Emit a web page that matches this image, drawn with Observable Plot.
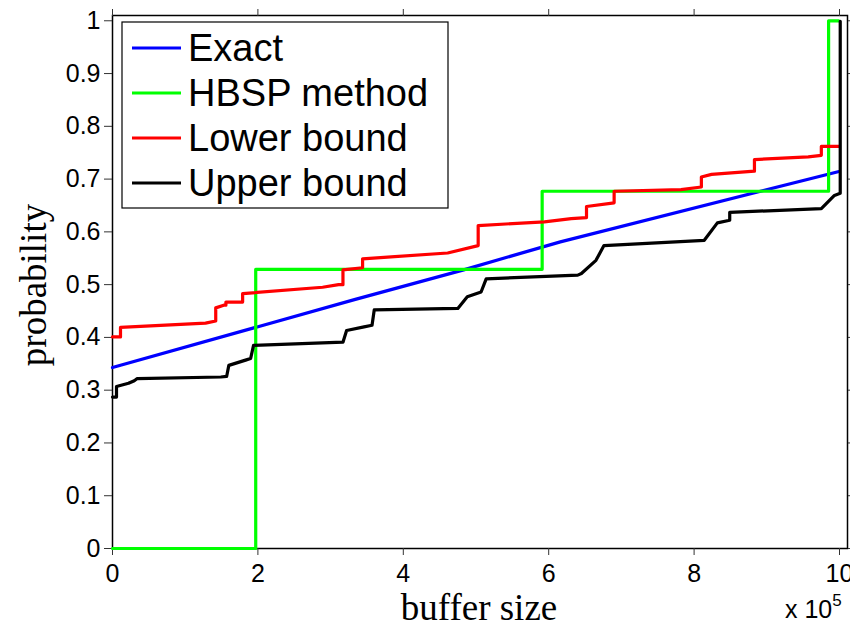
<!DOCTYPE html>
<html>
<head>
<meta charset="utf-8">
<script src="https://cdn.jsdelivr.net/npm/d3@7"></script>
<script src="https://cdn.jsdelivr.net/npm/@observablehq/plot@0.6"></script>
<style>
  html, body { margin: 0; padding: 0; background: #fff; }
  #chart { position: relative; width: 850px; height: 627px; }
</style>
</head>
<body>
<div id="chart"></div>
<script>
// buffer size in units of 10^5
const exactX = [0, 3.34, 4.83, 6.16, 9.98];
const exactY = [0.343, 0.472, 0.528, 0.581, 0.714];

const hbspX = [0, 1.97, 5.91, 9.85, 9.99];
const hbspY = [0, 0.529, 0.677, 1.0, 1.0];

const lowerX = [0, 0.11, 0.11, 1.28, 1.42, 1.42, 1.53, 1.56, 1.56, 1.79, 1.79, 2.89, 3.11, 3.17, 3.17, 3.44, 3.44, 4.61, 5.03, 5.03, 5.94, 6.31, 6.52, 6.52, 6.90, 6.90, 7.82, 8.10, 8.10, 8.24, 8.83, 8.83, 9.57, 9.75, 9.75, 9.99];
const lowerY = [0.401, 0.401, 0.419, 0.427, 0.431, 0.456, 0.461, 0.461, 0.467, 0.467, 0.483, 0.495, 0.500, 0.500, 0.528, 0.532, 0.549, 0.560, 0.574, 0.612, 0.619, 0.625, 0.627, 0.648, 0.655, 0.677, 0.680, 0.685, 0.704, 0.709, 0.715, 0.737, 0.742, 0.745, 0.762, 0.762];

const upperX = [0, 0.055, 0.055, 0.22, 0.30, 0.34, 1.49, 1.57, 1.60, 1.83, 1.90, 1.94, 3.17, 3.22, 3.46, 3.57, 3.60, 4.75, 4.88, 5.07, 5.14, 6.40, 6.45, 6.65, 6.76, 8.14, 8.32, 8.49, 8.49, 9.75, 9.93, 10.01, 10.01];
const upperY = [0.287, 0.287, 0.307, 0.313, 0.318, 0.322, 0.325, 0.326, 0.347, 0.357, 0.360, 0.385, 0.391, 0.413, 0.420, 0.423, 0.452, 0.455, 0.477, 0.486, 0.511, 0.518, 0.521, 0.546, 0.574, 0.584, 0.617, 0.622, 0.637, 0.644, 0.669, 0.673, 0.999];

const seriesNames = ["Exact", "HBSP method", "Lower bound", "Upper bound"];
const seriesColors = ["#0000ff", "#00ff00", "#ff0000", "#000000"];
const xTicks = [0, 2, 4, 6, 8, 10];
const yTicks = [0, 0.1, 0.2, 0.3, 0.4, 0.5, 0.6, 0.7, 0.8, 0.9, 1];

const toRows = (xs, ys) => xs.map((x, i) => ({x, y: ys[i]}));
const exact = toRows(exactX, exactY);
const hbsp = toRows(hbspX, hbspY);
const lower = toRows(lowerX, lowerY);
const upper = toRows(upperX, upperY);

const fmtY = d => String(d);

const plot = Plot.plot({
  width: 850,
  height: 627,
  marginLeft: 112,
  marginRight: 3,
  marginTop: 15,
  marginBottom: 79,
  style: {fontFamily: "'Liberation Sans', Arial, sans-serif", background: "#fff", overflow: "visible"},
  x: {domain: [0, 10.11], ticks: xTicks},
  y: {domain: [0, 1.01], ticks: yTicks},
  marks: [
    Plot.frame({stroke: "#000", strokeWidth: 1.5}),
    Plot.axisX({anchor: "bottom", ticks: xTicks, tickSize: 7, tickPadding: 9, fontSize: 25, label: null, stroke: "#333", tickFormat: d => String(d)}),
    Plot.axisX({anchor: "top", ticks: xTicks, tickSize: 7, label: null, stroke: "#333", tickFormat: () => ""}),
    Plot.axisY({anchor: "left", ticks: yTicks, tickSize: 8, tickPadding: 4, fontSize: 25, label: null, stroke: "#333", tickFormat: fmtY}),
    Plot.axisY({anchor: "right", ticks: yTicks, tickSize: 8, label: null, stroke: "#333", tickFormat: () => ""}),
    Plot.line(exact, {x: "x", y: "y", stroke: seriesColors[0], strokeWidth: 3.2}),
    Plot.line(hbsp, {x: "x", y: "y", stroke: seriesColors[1], strokeWidth: 3.2, curve: "step-after"}),
    Plot.line(lower, {x: "x", y: "y", stroke: seriesColors[2], strokeWidth: 3.2}),
    Plot.line(upper, {x: "x", y: "y", stroke: seriesColors[3], strokeWidth: 3.2})
  ]
});

document.getElementById("chart").appendChild(plot);

const svg = d3.select(plot);
// axis titles
svg.append("text")
  .attr("x", 479).attr("y", 620)
  .attr("text-anchor", "middle")
  .attr("font-family", "'Liberation Serif', 'Times New Roman', serif")
  .attr("font-size", 37)
  .attr("fill", "#000")
  .text("buffer size");
svg.append("text")
  .attr("transform", "translate(46,285) rotate(-90)")
  .attr("text-anchor", "middle")
  .attr("font-family", "'Liberation Serif', 'Times New Roman', serif")
  .attr("font-size", 37)
  .attr("fill", "#000")
  .text("probability");
// exponent
const ex = svg.append("text")
  .attr("x", 785).attr("y", 618)
  .attr("text-anchor", "start")
  .attr("font-family", "'Liberation Sans', Arial, sans-serif")
  .attr("font-size", 25)
  .attr("fill", "#000");
ex.append("tspan").text("x 10");
ex.append("tspan").attr("dy", -12).attr("font-size", 17).text("5");

// legend
const lg = svg.append("g");
lg.append("rect").attr("x", 122).attr("y", 22).attr("width", 326).attr("height", 186)
  .attr("fill", "#fff").attr("stroke", "#000").attr("stroke-width", 1.2);
const rowY = [48, 93, 138, 183];
seriesNames.forEach((name, i) => {
  lg.append("line").attr("x1", 132).attr("x2", 181).attr("y1", rowY[i]).attr("y2", rowY[i])
    .attr("stroke", seriesColors[i]).attr("stroke-width", 3);
  lg.append("text").attr("x", 188).attr("y", rowY[i] + 13)
    .attr("text-anchor", "start")
    .attr("font-family", "'Liberation Sans', Arial, sans-serif")
    .attr("font-size", 38).attr("fill", "#000").text(name);
});
</script>
</body>
</html>
